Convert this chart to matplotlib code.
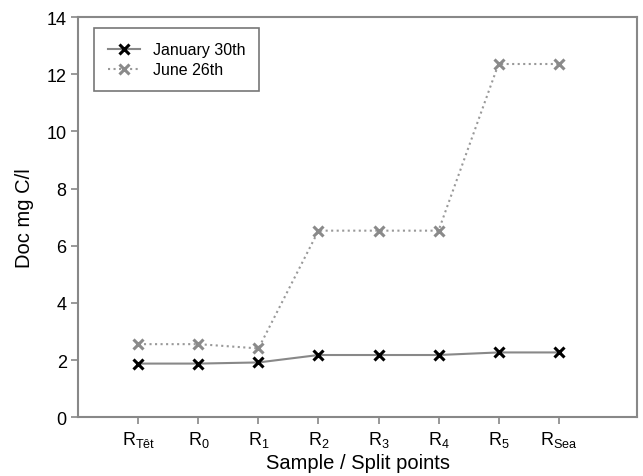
import matplotlib
matplotlib.use("Agg")
import matplotlib.pyplot as plt

plt.rcParams['font.family'] = ['Liberation Sans', 'DejaVu Sans']
plt.rcParams['mathtext.fontset'] = 'custom'
plt.rcParams['mathtext.rm'] = 'Liberation Sans'

points = [r'R$_{\mathregular{Têt}}$', r'R$_{\mathregular{0}}$', r'R$_{\mathregular{1}}$',
          r'R$_{\mathregular{2}}$', r'R$_{\mathregular{3}}$', r'R$_{\mathregular{4}}$',
          r'R$_{\mathregular{5}}$', r'R$_{\mathregular{Sea}}$']
january = [1.88, 1.88, 1.92, 2.18, 2.18, 2.18, 2.27, 2.27]
june = [2.56, 2.56, 2.41, 6.53, 6.53, 6.53, 12.36, 12.36]

x = list(range(len(points)))

fig = plt.figure(figsize=(6.43, 4.77), dpi=100)
ax = fig.add_axes([0.122, 0.123, 0.868, 0.839])

ax.plot(x, january, color='#888888', lw=1.5, ls='-', marker='x', ms=6.5,
        mew=2.2, mec='black', label='January 30th')
ax.plot(x, june, color='#999999', lw=1.5, ls=':', marker='x', ms=6.5,
        mew=2.2, mec='#8a8a8a', label='June 26th')

ax.set_xlim(-1, 8.3)
ax.set_ylim(0, 14)
ax.set_xticks(x)
ax.set_xticklabels(points)
ax.set_yticks(range(0, 15, 2))

for s in ax.spines.values():
    s.set_color('#888888')
    s.set_linewidth(1.5)
ax.tick_params(colors='#888888', labelcolor='black', labelsize=13, length=5, width=1.2)

ax.set_xlabel('Sample / Split points', fontsize=14.5, labelpad=3)
ax.set_ylabel('Doc mg C/l', fontsize=14.5, labelpad=9)

leg = ax.legend(loc='upper left', bbox_to_anchor=(0.027, 0.973), borderaxespad=0,
                fontsize=11.5, frameon=True, fancybox=False, edgecolor='#555555',
                borderpad=0.9, handlelength=2.0, labelspacing=0.3)
leg.get_frame().set_linewidth(1.2)

fig.savefig('out.png', dpi=100)
